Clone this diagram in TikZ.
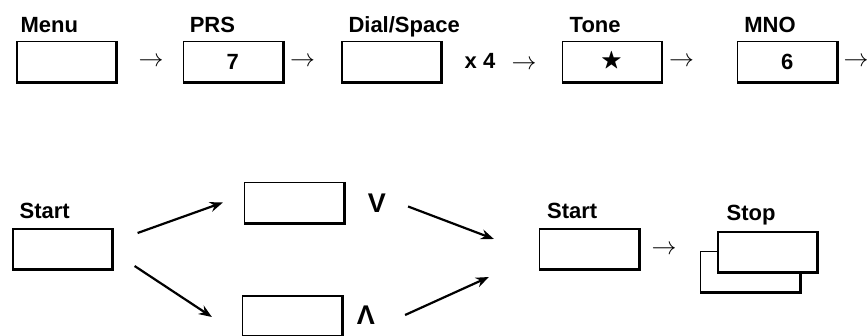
\documentclass[tikz,border=0pt]{standalone}
\usepackage{amssymb}
\usepackage{fontspec}
\setmainfont{Liberation Sans}
\usetikzlibrary{arrows.meta,positioning,calc}
\newcommand{\lblfont}{\fontsize{22}{26}\selectfont\bfseries}

\begin{document}
\begin{tikzpicture}[
    x=1pt, y=1pt,
    node distance=58pt,
    key/.style={rectangle, draw, line width=1.2pt, fill=white, minimum width=99pt, minimum height=40pt, inner sep=0pt, font=\lblfont,
        append after command={\pgfextra{\draw[line width=3.5pt, line cap=butt, line join=miter] (\tikzlastnode.north east) -- (\tikzlastnode.south east) -- (\tikzlastnode.south west);}}},
    lbl/.style={anchor=base west, inner sep=0pt, font=\lblfont},
    thin/.style={inner sep=0pt, font=\fontsize{23}{26}\selectfont},
    cmp/.style={inner sep=0pt, font=\fontsize{27}{30}\selectfont\bfseries},
    arr/.style={-{Stealth[length=13pt, width=10pt]}, line width=2.2pt}
]
\useasboundingbox (0,0) rectangle (868,335);
\node[key] (menu) at (66.5,273.5) {};
\node[key, right=66pt of menu] (prs) {7};
\node[key, right=58.5pt of prs] (dial) {};
\node[key, right=120pt of dial] (tone) {$\bigstar$};
\node[key, right=75.5pt of tone] (mno) {6};
\node[lbl] at ([shift={(4,8)}]menu.north west) {Menu};
\node[lbl] at ([shift={(7,8)}]prs.north west) {PRS};
\node[lbl] at ([shift={(7,8)}]dial.north west) {Dial/Space};
\node[lbl] at ([shift={(8,8)}]tone.north west) {Tone};
\node[lbl] at ([shift={(7,8)}]mno.north west) {MNO};
\node[thin] (t1) at (151,273) {$\rightarrow$};
\node[thin] (t2) at (302.5,273) {$\rightarrow$};
\node[font=\lblfont, inner sep=0pt] (times) at (480,274) {x 4};
\node[thin] (t3) at (524,270) {$\rightarrow$};
\node[thin] (t4) at (681.5,273) {$\rightarrow$};
\node[thin] (t5) at (856,273) {$\rightarrow$};

\node[key] (start) at (62.5,86) {};
\node[key] (up) at (294,132.5) {};
\node[key] (down) at (292,19) {};
\node[cmp] (orup) at (377,132) {V};
\node[cmp] (ordown) at (366,20) {Λ};
\node[key] (restart) at (589,86) {};
\node[key] (stopback) at (750,63.5) {};
\node[key] (stop) at (767.5,83) {};
\node[lbl] at ([shift={(7,10)}]start.north west) {Start};
\node[lbl] at ([shift={(8,10)}]restart.north west) {Start};
\node[lbl] at ([shift={(9,11)}]stop.north west) {Stop};
\node[thin] (t6) at (664,85) {$\rightarrow$};
\draw[arr] ([shift={(25,16)}]start.east) -- ([shift={(-21,0)}]up.west);
\draw[arr] ([shift={(22,-17)}]start.east) -- ([shift={(-30,-1)}]down.west);
\draw[arr] ([shift={(64,-4)}]up.east) -- ([shift={(-45,10)}]restart.west);
\draw[arr] ([shift={(63,1)}]down.east) -- ([shift={(-50,-28)}]restart.west);
\end{tikzpicture}
\end{document}
